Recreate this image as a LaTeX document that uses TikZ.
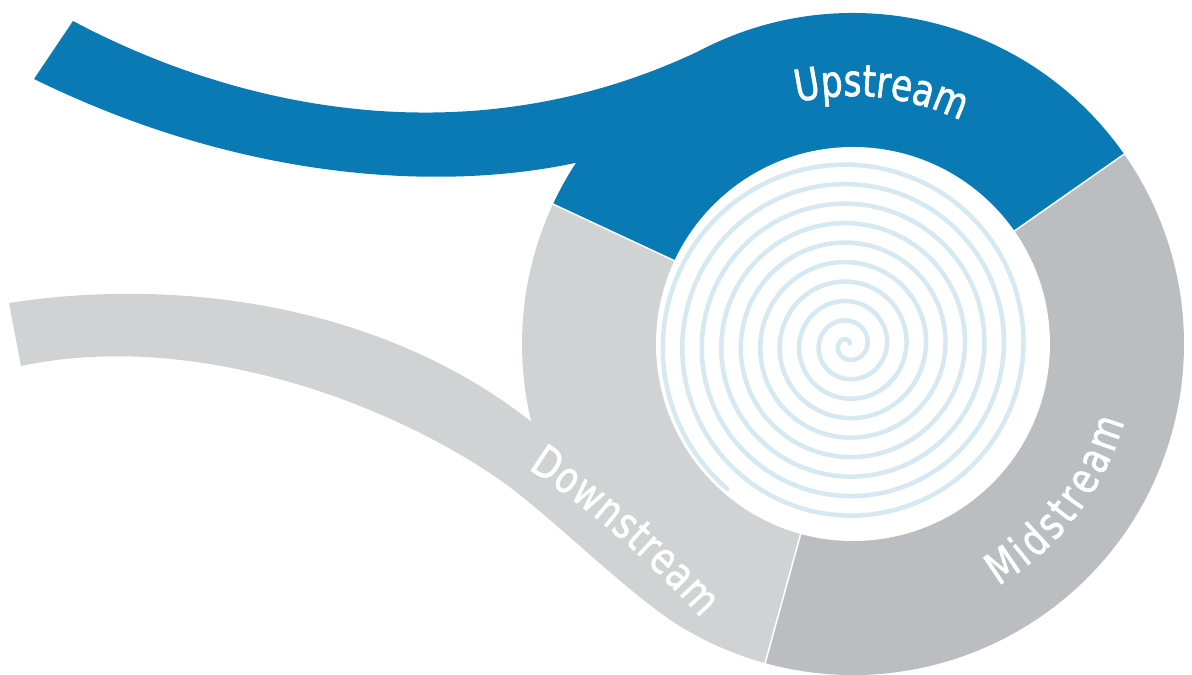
\documentclass[tikz,border=0pt]{standalone}
\usepackage{fontspec}
\usetikzlibrary{decorations.text}

\newfontfamily\streamfont[FakeStretch=0.78, FakeBold=1.3]{DejaVu Sans}
\newcommand\streamsize{\streamfont\fontsize{44pt}{48pt}\selectfont}

\definecolor{upblue}{RGB}{10,122,181}
\definecolor{downgray}{RGB}{209,210,212}
\definecolor{midgray}{RGB}{188,189,192}
\definecolor{swirl}{RGB}{214,232,242}

\tikzset{
  divider/.style={draw=white, line width=1.5pt},
  swirlline/.style={draw=swirl, line width=4.5pt, line cap=round},
  streamtext/.style={decorate, decoration={text along path,
      text={|\streamsize|#1}, text align=fit to path, text color=white}}
}

\begin{document}
\begin{tikzpicture}[x=1pt, y=1pt]
    % Define ring sizes
    \def\outerr{331}
    \def\innerr{197}

    \fill[white] (0,0) rectangle (1192,675);
    \useasboundingbox (0,0) rectangle (1192,675);
    \coordinate (C) at (853,331);

    % Midstream sector
    \fill[midgray] (C) -- ++(-105.4:\outerr) arc[start angle=-105.4, end angle=35, radius=\outerr pt] -- cycle;

    % Downstream sector and lower stream
    \fill[downgray] (21,309) -- (9,372)
        .. controls (190,400) and (390,365) .. (531.3,253.2)
        arc[start angle=193.6, end angle=155, radius=\outerr pt]
        -- (C) -- ++(254.6:\outerr) arc[start angle=254.6, end angle=238.5, radius=\outerr pt]
        .. controls (629,80) and (549,161) .. (500,195)
        .. controls (385,275) and (190,345) .. (21,309)
        -- cycle;

    % Upstream sector and upper stream
    \fill[upblue] (34,596) -- (73,654)
        .. controls (250,560) and (480,520) .. (698.6,623.8)
        arc[start angle=117.8, end angle=35, radius=\outerr pt]
        -- (C) -- ++(155:\outerr) arc[start angle=155, end angle=146.8, radius=\outerr pt]
        .. controls (450,485) and (250,490) .. (34,596)
        -- cycle;

    % White lines between the sectors
    \foreach \a in {35, 155, 254.6} {
        \draw[divider] (C) -- ++(\a:\outerr+3);
    }

    % Inner disc with the spiral
    \fill[white] (C) circle[radius=\innerr pt];
    \draw[swirlline] plot[domain=40:3470, samples=900, variable=\t]
        ({848 + (\t/360)*19.5*cos(\t)}, {330 + (\t/360)*19.5*sin(\t)});

    % Labels
    \path[streamtext=Upstream] (C) ++(103:248) arc[start angle=103, end angle=65.5, radius=248pt];
    \path[streamtext=Midstream] (C) ++(-59:282) arc[start angle=-59, end angle=-16, radius=282pt];
    \path[streamtext=Downstream] (528,206) .. controls (592,165) and (650,113) .. (701,57);

\end{tikzpicture}
\end{document}
